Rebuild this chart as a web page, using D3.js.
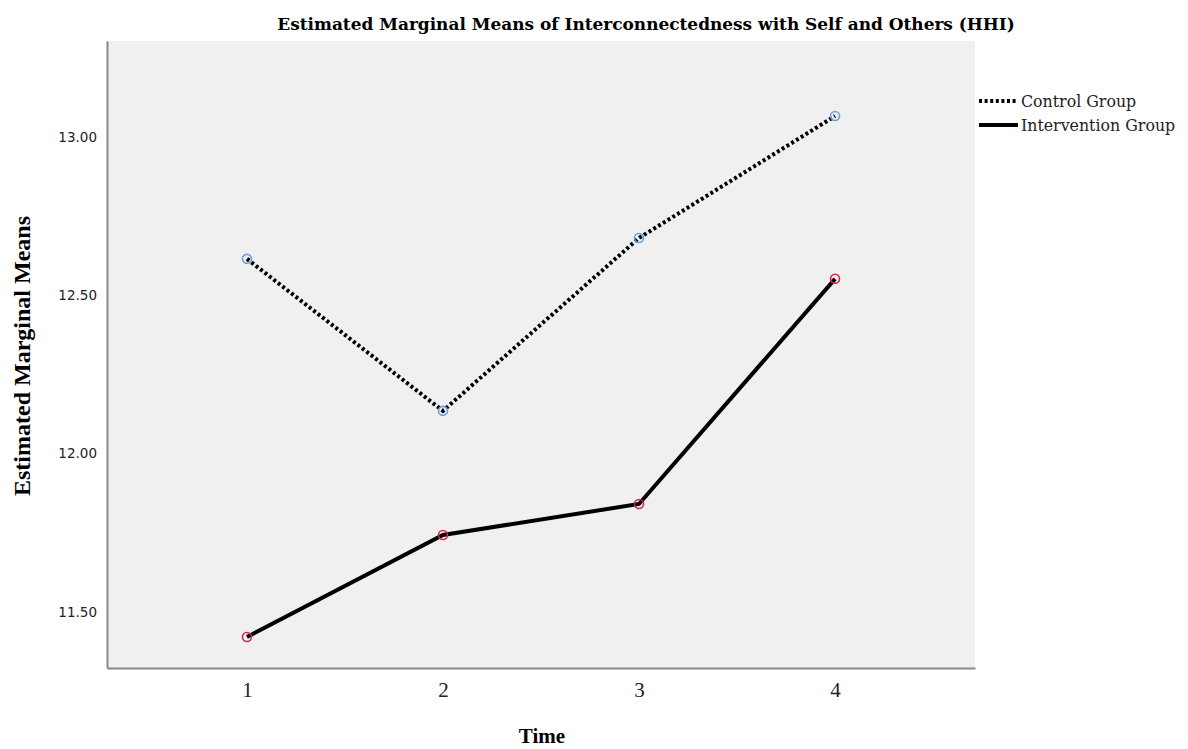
<!DOCTYPE html>
<html>
<head>
<meta charset="utf-8">
<script src="https://cdn.jsdelivr.net/npm/d3@7"></script>
<style>
  body { margin: 0; background: #fff; }
</style>
</head>
<body>
<div id="chart"></div>
<script>
const times = ["1", "2", "3", "4"];
const groups = ["Control Group", "Intervention Group"];
const controlMeans = [12.615, 12.135, 12.681, 13.066];
const interventionMeans = [11.421, 11.743, 11.841, 12.552];
const yTicks = [11.5, 12.0, 12.5, 13.0];

const width = 1188, height = 749;
const plot = { left: 107, right: 975, top: 41, bottom: 668 };

const svg = d3.select("#chart").append("svg")
  .attr("width", width).attr("height", height);

const x = d3.scalePoint().domain(times).range([plot.left, plot.right]).padding(0.714);
const y = d3.scaleLinear().domain([11.323, 13.303]).range([plot.bottom, plot.top]);

svg.append("rect")
  .attr("x", plot.left).attr("y", plot.top)
  .attr("width", plot.right - plot.left).attr("height", plot.bottom - plot.top)
  .attr("fill", "#f0f0f0");

// axes
const yAxis = svg.append("g")
  .attr("transform", `translate(${plot.left},0)`)
  .call(d3.axisLeft(y).tickValues(yTicks).tickSize(0).tickPadding(10).tickFormat(d3.format(".2f")));
yAxis.select(".domain").attr("stroke", "#888").attr("stroke-width", 2);
yAxis.selectAll("text").attr("font-family", "DejaVu Sans").attr("font-size", 13.5).attr("fill", "#222");

const xAxis = svg.append("g")
  .attr("transform", `translate(0,${plot.bottom})`)
  .call(d3.axisBottom(x).tickSize(0).tickPadding(14));
xAxis.select(".domain").attr("stroke", "#888").attr("stroke-width", 2);
xAxis.selectAll("text").attr("font-family", "Liberation Serif").attr("font-size", 21).attr("fill", "#222");

const series = [
  { name: groups[0], values: controlMeans, dash: "3,2.6", marker: "#6a9fe0" },
  { name: groups[1], values: interventionMeans, dash: null, marker: "#d8214c" }
];

const line = d3.line().x((d, i) => x(times[i])).y(d => y(d));

series.forEach(s => {
  svg.append("path")
    .datum(s.values)
    .attr("d", line)
    .attr("fill", "none")
    .attr("stroke", "#000")
    .attr("stroke-width", 4)
    .attr("stroke-dasharray", s.dash);
  svg.selectAll(null)
    .data(s.values)
    .enter()
    .append("circle")
    .attr("cx", (d, i) => x(times[i]))
    .attr("cy", d => y(d))
    .attr("r", 4.5)
    .attr("fill", "none")
    .attr("stroke", s.marker)
    .attr("stroke-width", 1.6);
});

// titles
const title = svg.append("text")
  .attr("x", 646).attr("y", 30)
  .attr("text-anchor", "middle")
  .attr("font-family", "DejaVu Serif").attr("font-weight", "bold").attr("font-size", 16)
  .text("Estimated Marginal Means of Interconnectedness with Self and Others (HHI)");
// fit title to the width it takes in the original (~738px)
const tw = title.node().getComputedTextLength();
title.attr("font-size", 16 * 738 / tw);

svg.append("text")
  .attr("x", 542).attr("y", 743)
  .attr("text-anchor", "middle")
  .attr("font-family", "Liberation Serif").attr("font-weight", "bold").attr("font-size", 21)
  .text("Time");

svg.append("text")
  .attr("transform", `translate(30,356) rotate(-90)`)
  .attr("text-anchor", "middle")
  .attr("font-family", "Liberation Serif").attr("font-weight", "bold").attr("font-size", 24)
  .text("Estimated Marginal Means");

// legend
const legend = svg.append("g").attr("transform", "translate(979,101)");
series.forEach((s, i) => {
  const g = legend.append("g").attr("transform", `translate(0,${i * 24})`);
  g.append("line")
    .attr("x1", 0).attr("x2", 39).attr("y1", 0).attr("y2", 0)
    .attr("stroke", "#000").attr("stroke-width", 4)
    .attr("stroke-dasharray", s.dash);
  g.append("text")
    .attr("x", 42).attr("y", 6)
    .attr("font-family", "DejaVu Serif").attr("font-size", 15.8)
    .attr("fill", "#222")
    .text(s.name);
});
</script>
</body>
</html>
